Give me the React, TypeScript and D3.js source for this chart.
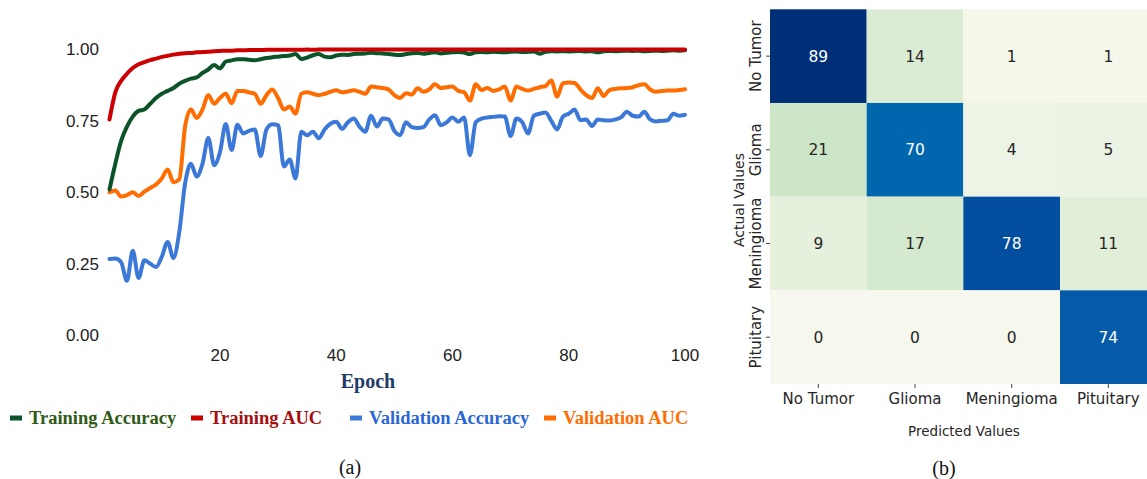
import React from "react";
import * as d3 from "d3";

// ---- (a) training curves, one value per epoch ----
const epochs: number[] = d3.range(1, 101);

const trainingAccuracy: number[] = [
  0.51, 0.6, 0.68, 0.73, 0.765, 0.785, 0.79, 0.81, 0.83, 0.845,
  0.855, 0.865, 0.88, 0.89, 0.898, 0.902, 0.918, 0.93, 0.946, 0.934,
  0.958, 0.962, 0.966, 0.966, 0.964, 0.962, 0.966, 0.97, 0.973, 0.975,
  0.977, 0.979, 0.984, 0.967, 0.972, 0.98, 0.984, 0.975, 0.973, 0.979,
  0.982, 0.981, 0.984, 0.985, 0.986, 0.989, 0.987, 0.986, 0.984, 0.982,
  0.981, 0.984, 0.987, 0.988, 0.985, 0.988, 0.99, 0.986, 0.989, 0.99,
  0.991, 0.989, 0.984, 0.99, 0.991, 0.99, 0.992, 0.991, 0.99, 0.992,
  0.993, 0.991, 0.992, 0.993, 0.985, 0.992, 0.994, 0.993, 0.994, 0.993,
  0.994, 0.995, 0.993, 0.994, 0.99, 0.994, 0.995, 0.994, 0.995, 0.996,
  0.995, 0.996, 0.994, 0.995, 0.996, 0.995, 0.996, 0.997, 0.996, 0.997,
];

const trainingAUC: number[] = [
  0.755, 0.85, 0.89, 0.915, 0.935, 0.948, 0.956, 0.963, 0.968, 0.974,
  0.978, 0.982, 0.985, 0.987, 0.988, 0.99, 0.991, 0.992, 0.994, 0.995,
  0.996, 0.996, 0.997, 0.997, 0.998, 0.998, 0.998, 0.999, 0.999, 0.999,
  0.999, 0.999, 0.999, 0.999, 1.0, 0.999, 1.0, 1.0, 1.0, 1.0,
  1.0, 1.0, 1.0, 1.0, 1.0, 1.0, 1.0, 1.0, 1.0, 1.0,
  1.0, 1.0, 1.0, 1.0, 1.0, 1.0, 1.0, 1.0, 1.0, 1.0,
  1.0, 1.0, 1.0, 1.0, 1.0, 1.0, 1.0, 1.0, 1.0, 1.0,
  1.0, 1.0, 1.0, 1.0, 1.0, 1.0, 1.0, 1.0, 1.0, 1.0,
  1.0, 1.0, 1.0, 1.0, 1.0, 1.0, 1.0, 1.0, 1.0, 1.0,
  1.0, 1.0, 1.0, 1.0, 1.0, 1.0, 1.0, 1.0, 1.0, 1.0,
];

const validationAccuracy: number[] = [
  0.266, 0.268, 0.255, 0.19, 0.295, 0.2, 0.262, 0.25, 0.238, 0.274,
  0.326, 0.27, 0.36, 0.53, 0.6, 0.555, 0.6, 0.69, 0.595, 0.64,
  0.739, 0.648, 0.736, 0.706, 0.715, 0.72, 0.627, 0.72, 0.738, 0.735,
  0.59, 0.615, 0.548, 0.712, 0.7, 0.712, 0.689, 0.72, 0.74, 0.747,
  0.722, 0.745, 0.758, 0.73, 0.712, 0.768, 0.73, 0.758, 0.755, 0.715,
  0.7, 0.745, 0.728, 0.725, 0.728, 0.755, 0.77, 0.735, 0.745, 0.762,
  0.747, 0.762, 0.63, 0.745, 0.758, 0.762, 0.764, 0.766, 0.765, 0.697,
  0.758, 0.745, 0.706, 0.768, 0.775, 0.779, 0.75, 0.72, 0.765, 0.775,
  0.79, 0.753, 0.755, 0.732, 0.755, 0.752, 0.751, 0.755, 0.762, 0.782,
  0.768, 0.765, 0.782, 0.755, 0.748, 0.75, 0.752, 0.775, 0.768, 0.771,
];

const validationAUC: number[] = [
  0.5, 0.506, 0.485, 0.49, 0.5, 0.487, 0.502, 0.515, 0.527, 0.548,
  0.58, 0.535, 0.545, 0.73, 0.79, 0.76, 0.79, 0.84, 0.81, 0.83,
  0.845, 0.812, 0.855, 0.855, 0.85, 0.845, 0.81, 0.84, 0.86, 0.83,
  0.79, 0.8, 0.775, 0.845, 0.85, 0.845, 0.84, 0.845, 0.852, 0.857,
  0.85, 0.853, 0.857, 0.852, 0.845, 0.87, 0.868, 0.865, 0.86, 0.84,
  0.83, 0.847, 0.842, 0.864, 0.852, 0.86, 0.878, 0.865, 0.868, 0.87,
  0.855, 0.85, 0.821, 0.878, 0.858, 0.865, 0.855, 0.86, 0.87, 0.821,
  0.87, 0.862, 0.856, 0.862, 0.868, 0.872, 0.891, 0.835, 0.882, 0.884,
  0.883, 0.86, 0.84, 0.83, 0.864, 0.837, 0.858, 0.862, 0.864, 0.865,
  0.868, 0.875, 0.878, 0.86, 0.852, 0.855, 0.856, 0.856, 0.858, 0.861,
];

const yTicks: number[] = [0, 0.25, 0.5, 0.75, 1.0];
const xTicks: number[] = [20, 40, 60, 80, 100];

type Series = { name: string; values: number[]; line: string; text: string };
const series: Series[] = [
  { name: "Training Accuracy", values: trainingAccuracy, line: "#0b5328", text: "#2f5a17" },
  { name: "Training AUC", values: trainingAUC, line: "#cc0000", text: "#a50f0f" },
  { name: "Validation Accuracy", values: validationAccuracy, line: "#3c78d8", text: "#2a66d6" },
  { name: "Validation AUC", values: validationAUC, line: "#ff6d01", text: "#ff6d01" },
];
// draw order: validation curves underneath, training on top
const drawOrder = [3, 2, 0, 1];
const legendX = [10, 191, 350, 544];

// ---- (b) confusion matrix ----
const classes: string[] = ["No Tumor", "Glioma", "Meningioma", "Pituitary"];
const confusion: number[][] = [
  [89, 14, 1, 1],
  [21, 70, 4, 5],
  [9, 17, 78, 11],
  [0, 0, 0, 74],
];

export default function App() {
  // line chart scales
  const x = d3.scaleLinear().domain([1, 100]).range([109.5, 685]);
  const y = d3.scaleLinear().domain([0, 1]).range([335, 49.5]);
  const line = d3
    .line<number>()
    .x((_, i) => x(epochs[i]))
    .y((v) => y(v))
    .curve(d3.curveMonotoneX);

  // heatmap scales
  const cx = d3.scaleBand<string>().domain(classes).range([770, 1156.7]);
  const cy = d3.scaleBand<string>().domain(classes).range([9.3, 384]);
  const color = d3
    .scaleLinear<string>()
    .domain([0, 1, 5, 10, 15, 21, 70, 74, 78, 89])
    .range([
      "#f6f8ee",
      "#f4f7ea",
      "#ebf3e4",
      "#e3f0db",
      "#d8ebd2",
      "#cce6c7",
      "#0066ad",
      "#055ba8",
      "#034e9f",
      "#002f78",
    ])
    .clamp(true);

  const sans = "'DejaVu Sans', sans-serif";
  const serif = "'Liberation Serif', 'Times New Roman', serif";

  return (
    <svg
      width={1147}
      height={479}
      style={{ position: "absolute", left: 0, top: 0, background: "#fff" }}
    >
      {/* y axis labels */}
      {yTicks.map((t) => (
        <text
          key={"y" + t}
          x={99}
          y={y(t)}
          dy="0.35em"
          textAnchor="end"
          fontFamily="'Liberation Sans', Arial, sans-serif"
          fontSize={17}
          fill="#222"
        >
          {t.toFixed(2)}
        </text>
      ))}
      {/* x axis labels */}
      {xTicks.map((t) => (
        <text
          key={"x" + t}
          x={x(t)}
          y={355}
          dy="0.35em"
          textAnchor="middle"
          fontFamily="'Liberation Sans', Arial, sans-serif"
          fontSize={17}
          fill="#222"
        >
          {t}
        </text>
      ))}
      <text
        x={368}
        y={381}
        dy="0.35em"
        textAnchor="middle"
        fontFamily={serif}
        fontWeight="bold"
        fontSize={20}
        fill="#1f3c66"
      >
        Epoch
      </text>

      {/* curves */}
      {drawOrder.map((i) => (
        <path
          key={series[i].name}
          d={line(series[i].values) ?? ""}
          fill="none"
          stroke={series[i].line}
          strokeWidth={4}
          strokeLinejoin="round"
          strokeLinecap="round"
        />
      ))}

      {/* legend */}
      {series.map((s, i) => (
        <g key={"lg" + s.name} transform={`translate(${legendX[i]},418)`}>
          <rect x={0} y={-2.5} width={12} height={5} fill={s.line} />
          <text
            x={19}
            y={0}
            dy="0.35em"
            fontFamily={serif}
            fontWeight="bold"
            fontSize={18.5}
            fill={s.text}
          >
            {s.name}
          </text>
        </g>
      ))}

      <text
        x={350}
        y={467}
        dy="0.35em"
        textAnchor="middle"
        fontFamily={serif}
        fontSize={20}
        fill="#111"
      >
        (a)
      </text>

      {/* confusion matrix cells */}
      {confusion.map((row, r) =>
        row.map((v, c) => (
          <g key={`c${r}-${c}`}>
            <rect
              x={cx(classes[c])}
              y={cy(classes[r])}
              width={cx.bandwidth()}
              height={cy.bandwidth()}
              fill={color(v)}
            />
            <text
              x={(cx(classes[c]) ?? 0) + cx.bandwidth() / 2}
              y={(cy(classes[r]) ?? 0) + cy.bandwidth() / 2}
              dy="0.36em"
              textAnchor="middle"
              fontFamily={sans}
              fontSize={15.5}
              fill={v > 45 ? "#ffffff" : "#262626"}
            >
              {v}
            </text>
          </g>
        ))
      )}

      {/* heatmap ticks and labels */}
      {classes.map((k) => {
        const yc = (cy(k) ?? 0) + cy.bandwidth() / 2;
        const xc = (cx(k) ?? 0) + cx.bandwidth() / 2;
        return (
          <g key={"t" + k}>
            <line x1={766} x2={770} y1={yc} y2={yc} stroke="#444" strokeWidth={1} />
            <text
              transform={`translate(761,${yc}) rotate(-90)`}
              textAnchor="middle"
              fontFamily={sans}
              fontSize={15}
              fill="#262626"
            >
              {k}
            </text>
            <line x1={xc} x2={xc} y1={384} y2={388} stroke="#444" strokeWidth={1} />
            <text
              x={xc}
              y={404}
              textAnchor="middle"
              fontFamily={sans}
              fontSize={15}
              fill="#262626"
            >
              {k}
            </text>
          </g>
        );
      })}
      <text
        transform="translate(744,200) rotate(-90)"
        textAnchor="middle"
        fontFamily={sans}
        fontSize={14}
        fill="#262626"
      >
        Actual Values
      </text>
      <text
        x={964}
        y={436}
        textAnchor="middle"
        fontFamily={sans}
        fontSize={13.5}
        fill="#262626"
      >
        Predicted Values
      </text>
      <text
        x={944}
        y={468}
        dy="0.35em"
        textAnchor="middle"
        fontFamily={serif}
        fontSize={20}
        fill="#111"
      >
        (b)
      </text>
    </svg>
  );
}
